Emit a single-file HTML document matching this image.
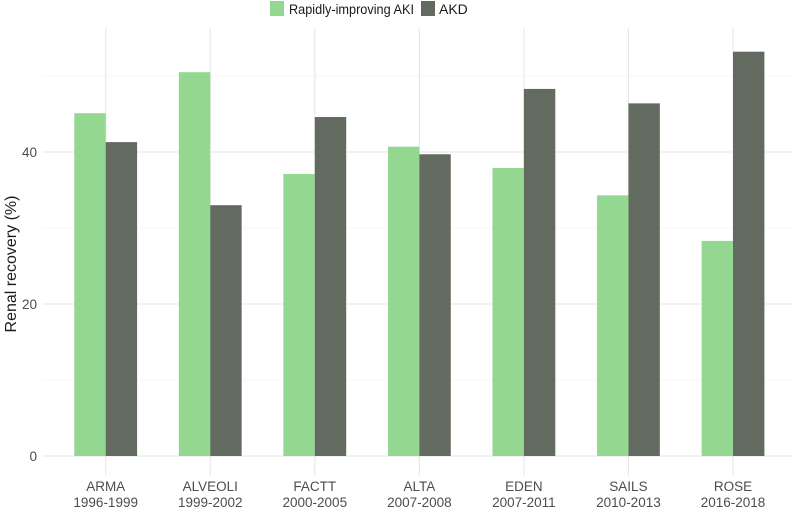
<!DOCTYPE html>
<html><head><meta charset="utf-8"><style>
body{margin:0;background:#fff;font-family:"Liberation Sans",sans-serif;}
svg{display:block}
</style></head><body>
<svg id="chart" width="797" height="508">
<g id="grid"></g>
<g id="bars"></g>
<g id="axes"></g>
<g>
<rect x="270" y="1" width="14" height="15" fill="#93d791"/>
<text x="289" y="14" font-size="14" textLength="125" lengthAdjust="spacingAndGlyphs" fill="#1a1a1a">Rapidly-improving AKI</text>
<rect x="421" y="1" width="14" height="15" fill="#636b60"/>
<text x="439" y="14" font-size="14" fill="#1a1a1a">AKD</text>
</g>
<text transform="translate(16,264) rotate(-90)" text-anchor="middle" font-size="16" fill="#1a1a1a">Renal recovery (%)</text>
</svg>
<script>
const categories=["ARMA","ALVEOLI","FACTT","ALTA","EDEN","SAILS","ROSE"];
const years=["1996-1999","1999-2002","2000-2005","2007-2008","2007-2011","2010-2013","2016-2018"];
const rapidValues=[45.1,50.5,37.1,40.7,37.9,34.3,28.3];
const akdValues=[41.3,33.0,44.6,39.7,48.3,46.4,53.2];
const yTicks=[0,20,40];
const yMinor=[10,30,50];
const NS="http://www.w3.org/2000/svg";
const y=v=>456-v*7.6;
const x=i=>105.7+i*104.55;
const bw=31.4;
const grid=document.getElementById('grid'),bars=document.getElementById('bars'),axes=document.getElementById('axes');
function mk(tag,attrs,parent){const e=document.createElementNS(NS,tag);for(const k in attrs)e.setAttribute(k,attrs[k]);parent.appendChild(e);return e;}
yMinor.forEach(v=>{const l=mk('line',{x1:43,x2:792,y1:y(v),y2:y(v),stroke:'#f0f0f0','stroke-width':0.6},grid);

});
yTicks.forEach(v=>{const l=mk('line',{x1:43,x2:792,y1:y(v),y2:y(v),stroke:'#e6e6e6','stroke-width':1.1},grid);


const t=mk('text',{x:37,y:y(v)+5,'text-anchor':'end','font-size':13.5,fill:'#4d4d4d'},axes);t.textContent=v;

});
categories.forEach((c,i)=>{const l=mk('line',{x1:x(i),x2:x(i),y1:28,y2:475,stroke:'#e6e6e6','stroke-width':1.1},grid);


const g=mk('rect',{x:x(i)-bw,y:y(rapidValues[i]),width:bw,height:y(0)-y(rapidValues[i]),fill:'#93d791'},bars);


const d=mk('rect',{x:x(i),y:y(akdValues[i]),width:bw,height:y(0)-y(akdValues[i]),fill:'#636b60'},bars);


const t=mk('text',{x:x(i),y:491,'text-anchor':'middle','font-size':13.5,fill:'#4d4d4d'},axes);


const s1=mk('tspan',{x:x(i)},t);s1.textContent=c;
const s2=mk('tspan',{x:x(i),dy:16},t);s2.textContent=years[i];});
</script>
</body></html>
